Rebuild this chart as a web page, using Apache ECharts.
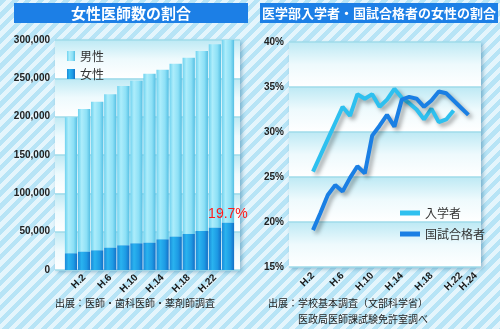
<!DOCTYPE html>
<html><head><meta charset="utf-8">
<script src="https://cdn.jsdelivr.net/npm/echarts/dist/echarts.min.js"></script>
<style>
html,body{margin:0;padding:0;}
#c{width:500px;height:329px;background:repeating-linear-gradient(135deg,#b7e4f6 0px,#b7e4f6 4.5px,#e4f5fc 4.5px,#e4f5fc 9px);}
</style></head><body><div id="c"></div>
<script>
// Left chart: physicians by sex (every 2 years)
const barYears = ['S.63','H.2','H.4','H.6','H.8','H.10','H.12','H.14','H.16','H.18','H.20','H.22','H.24'];
const femaleDoctors = [21800, 23900, 25700, 29100, 32200, 34800, 35600, 40000, 43500, 47000, 50900, 55200, 61700];
const maleDoctors = [177400, 186100, 193800, 200000, 207800, 212200, 220400, 221300, 225600, 230000, 234800, 239100, 238300];
const femaleShareLabel = '19.7%';
const barTicks = {min: 0, max: 300000, interval: 50000};

// Right chart: female share (%) of medical school entrants / national exam passers
const lineYears = ['H.2','H.3','H.4','H.5','H.6','H.7','H.8','H.9','H.10','H.11','H.12','H.13','H.14','H.15','H.16','H.17','H.18','H.19','H.20','H.21','H.22','H.23','H.24'];
const entrants = [25.6, 27.4, 29.2, 31.0, 32.8, 31.8, 34.2, 33.7, 34.2, 32.8, 33.6, 34.8, 33.8, 33.2, 32.5, 31.4, 32.6, 31.1, 31.4, 32.4];
const passers = [19.1, 21.0, 23.0, 24.1, 23.4, 24.9, 26.2, 25.4, 29.6, 30.7, 31.9, 30.6, 33.6, 33.9, 33.7, 32.8, 33.5, 34.5, 34.3, 33.5, 32.7, 31.9];
const lineTicks = {min: 15, max: 40, interval: 5};

const CJK = '"Noto Sans CJK JP", sans-serif';
const NUM = '"Liberation Sans", Arial, sans-serif';

function hGrad(stops) {
  return new echarts.graphic.LinearGradient(0, 0, 1, 0, stops.map((c) => ({offset: c[0], color: c[1]})));
}
const band = new echarts.graphic.LinearGradient(0, 0, 0, 1, [
  {offset: 0, color: '#bde9f4'}, {offset: 0.5, color: '#eefafd'}, {offset: 1, color: '#ffffff'}
]);

const chart = echarts.init(document.getElementById('c'), null, {renderer: 'canvas'});
const decoGrid = {show: true, backgroundColor: '#ffffff', borderWidth: 0,
  shadowColor: 'rgba(40,110,150,0.45)', shadowBlur: 4, shadowOffsetX: 2, shadowOffsetY: 2};

chart.setOption({
  animation: false,
  grid: [
    Object.assign({left: 55, top: 40, width: 185, height: 230}, decoGrid),
    {left: 64.5, top: 40, width: 170, height: 230},
    Object.assign({left: 289, top: 42, width: 192, height: 225}, decoGrid),
    {left: 313, top: 42, width: 162.8, height: 225}
  ],
  xAxis: [
    {gridIndex: 0, type: 'value', show: false, min: 0, max: 1},
    {gridIndex: 1, type: 'category', data: barYears,
      axisLine: {show: false}, axisTick: {show: false},
      axisLabel: {rotate: 45, margin: 6, fontSize: 10, fontWeight: 'bold', color: '#1a1a1a', fontFamily: NUM,
        interval: (i) => i % 2 === 1}},
    {gridIndex: 2, type: 'value', show: false, min: 0, max: 1},
    {gridIndex: 3, type: 'category', data: lineYears, boundaryGap: false,
      axisLine: {show: false}, axisTick: {show: false},
      axisLabel: {rotate: 45, margin: 7, fontSize: 10, fontWeight: 'bold', color: '#1a1a1a', fontFamily: NUM,
        interval: (i) => i % 4 === 0 || i === 22}}
  ],
  yAxis: [
    {gridIndex: 0, type: 'value', min: barTicks.min, max: barTicks.max, interval: barTicks.interval,
      axisLine: {show: false}, axisTick: {show: false},
      axisLabel: {margin: 5, fontSize: 10, fontWeight: 'bold', color: '#222', fontFamily: NUM,
        formatter: (v) => v.toLocaleString('en-US')},
      splitLine: {show: true, lineStyle: {color: '#9fdbea', width: 1.5}},
      splitArea: {show: true, areaStyle: {color: [band]}}},
    {gridIndex: 1, type: 'value', min: barTicks.min, max: barTicks.max, show: false, splitLine: {show: false}},
    {gridIndex: 2, type: 'value', min: lineTicks.min, max: lineTicks.max, interval: lineTicks.interval,
      axisLine: {show: false}, axisTick: {show: false},
      axisLabel: {margin: 5, fontSize: 10, fontWeight: 'bold', color: '#222', fontFamily: NUM, formatter: '{value}%'},
      splitLine: {show: true, lineStyle: {color: '#9fdbea', width: 1.5}},
      splitArea: {show: true, areaStyle: {color: [band]}}},
    {gridIndex: 3, type: 'value', min: lineTicks.min, max: lineTicks.max, show: false, splitLine: {show: false}}
  ],
  legend: [
    {data: ['男性', '女性'], left: 62, top: 45, orient: 'vertical', icon: 'rect',
      itemWidth: 8, itemHeight: 10, itemGap: 6,
      textStyle: {fontSize: 12, color: '#333', fontFamily: CJK}},
    {data: ['入学者', '国試合格者'], left: 395, top: 202, orient: 'vertical', icon: 'rect',
      itemWidth: 20, itemHeight: 5, itemGap: 9,
      textStyle: {fontSize: 12, color: '#333', fontFamily: CJK}}
  ],
  series: [
    {name: '女性', type: 'bar', xAxisIndex: 1, yAxisIndex: 1, stack: 'docs', z: 3,
      data: femaleDoctors, barCategoryGap: '6%',
      itemStyle: {color: hGrad([[0, '#1a8ad9'], [0.3, '#2ab3ef'], [0.7, '#1d9ae4'], [1, '#1470c6']])},
      label: {show: true, position: 'top', distance: 2, color: '#ff1a1a', fontSize: 14, fontFamily: NUM,
        formatter: (p) => p.dataIndex === femaleDoctors.length - 1 ? femaleShareLabel : ''}},
    {name: '男性', type: 'bar', xAxisIndex: 1, yAxisIndex: 1, stack: 'docs', z: 2,
      data: maleDoctors, barCategoryGap: '6%',
      itemStyle: {color: hGrad([[0, '#6fd2ef'], [0.3, '#adedfb'], [0.7, '#8de0f6'], [1, '#55bfe3']])}},
    {name: '入学者', type: 'line', xAxisIndex: 3, yAxisIndex: 3, data: entrants,
      symbol: 'none', color: '#2ec0ef',
      lineStyle: {width: 4, color: '#2ec0ef', shadowColor: 'rgba(0,0,0,0.35)', shadowBlur: 4, shadowOffsetX: 3, shadowOffsetY: 3}},
    {name: '国試合格者', type: 'line', xAxisIndex: 3, yAxisIndex: 3, data: passers,
      symbol: 'none', color: '#1a7fe4',
      lineStyle: {width: 4, color: '#1a7fe4', shadowColor: 'rgba(0,0,0,0.35)', shadowBlur: 4, shadowOffsetX: 3, shadowOffsetY: 3}}
  ],
  graphic: [
    {type: 'rect', left: 14, top: 3, z: 10, shape: {width: 234, height: 20}, style: {fill: '#1c7fe6'}},
    {type: 'text', x: 131, y: 13, z: 11, style: {text: '女性医師数の割合', fill: '#ffffff',
      fontSize: 15, fontWeight: 'bold', fontFamily: CJK, align: 'center', verticalAlign: 'middle'}},
    {type: 'rect', left: 260, top: 3, z: 10, shape: {width: 238, height: 20}, style: {fill: '#1c7fe6'}},
    {type: 'text', x: 379, y: 13, z: 11, style: {text: '医学部入学者・国試合格者の女性の割合', fill: '#ffffff',
      fontSize: 13, fontWeight: 'bold', fontFamily: CJK, align: 'center', verticalAlign: 'middle'}},
    {type: 'text', x: 135, y: 303, z: 11, style: {text: '出展：医師・歯科医師・薬剤師調査', fill: '#222',
      fontSize: 10, fontFamily: CJK, align: 'center', verticalAlign: 'middle'}},
    {type: 'text', x: 268, y: 303, z: 11, style: {text: '出展：学校基本調査（文部科学省）', fill: '#222',
      fontSize: 10, fontFamily: CJK, align: 'left', verticalAlign: 'middle'}},
    {type: 'text', x: 298, y: 319, z: 11, style: {text: '医政局医師課試験免許室調べ', fill: '#222',
      fontSize: 10, fontFamily: CJK, align: 'left', verticalAlign: 'middle'}}
  ]
});
</script>
</body></html>
